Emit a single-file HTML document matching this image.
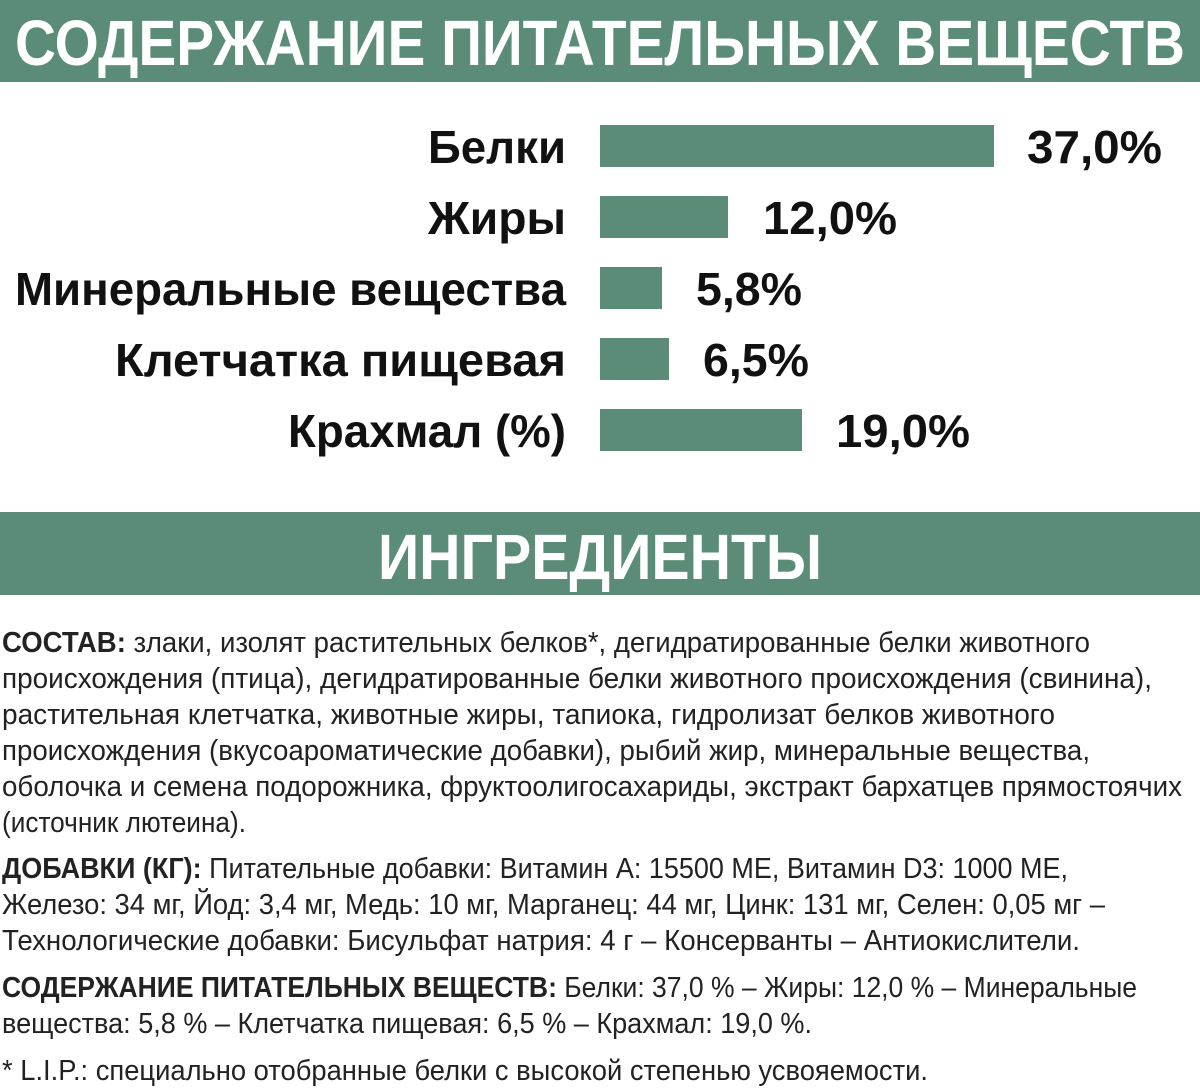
<!DOCTYPE html>
<html><head><meta charset="utf-8"><style>html,body{margin:0;padding:0;background:#fff}svg{display:block}</style></head>
<body>
<svg width="1200" height="1089" viewBox="0 0 1200 1089" xmlns="http://www.w3.org/2000/svg" font-family="'Liberation Sans', sans-serif">
<rect x="0" y="0" width="1200" height="82" fill="#5b8c78"/>
<text x="15" y="65" font-size="64" font-weight="bold" fill="#fff" textLength="1170" lengthAdjust="spacingAndGlyphs">СОДЕРЖАНИЕ ПИТАТЕЛЬНЫХ ВЕЩЕСТВ</text>
<g fill="#5b8c78">
<rect x="600" y="125" width="394" height="42"/>
<rect x="600" y="196" width="128" height="42"/>
<rect x="600" y="267" width="62" height="42"/>
<rect x="600" y="338" width="69" height="42"/>
<rect x="600" y="409" width="202" height="42"/>
</g>
<g font-size="46" font-weight="bold" fill="#111">
<text x="428" y="163" textLength="138" lengthAdjust="spacingAndGlyphs">Белки</text>
<text x="428" y="234" textLength="138" lengthAdjust="spacingAndGlyphs">Жиры</text>
<text x="15" y="305" textLength="551" lengthAdjust="spacingAndGlyphs">Минеральные вещества</text>
<text x="115" y="376" textLength="451" lengthAdjust="spacingAndGlyphs">Клетчатка пищевая</text>
<text x="288" y="447" textLength="278" lengthAdjust="spacingAndGlyphs">Крахмал (%)</text>
<text x="1027" y="163" textLength="135" lengthAdjust="spacingAndGlyphs">37,0%</text>
<text x="763" y="234" textLength="134" lengthAdjust="spacingAndGlyphs">12,0%</text>
<text x="696" y="305" textLength="106" lengthAdjust="spacingAndGlyphs">5,8%</text>
<text x="703" y="376" textLength="106" lengthAdjust="spacingAndGlyphs">6,5%</text>
<text x="836" y="447" textLength="134" lengthAdjust="spacingAndGlyphs">19,0%</text>
</g>
<rect x="0" y="512" width="1200" height="83" fill="#5b8c78"/>
<text x="378" y="579" font-size="64" font-weight="bold" fill="#fff" textLength="444" lengthAdjust="spacingAndGlyphs">ИНГРЕДИЕНТЫ</text>
<g font-size="29" fill="#222">
<text x="2" y="652" textLength="1088" lengthAdjust="spacingAndGlyphs"><tspan font-weight="bold">СОСТАВ:</tspan> злаки, изолят растительных белков*, дегидратированные белки животного</text>
<text x="2" y="688" textLength="1150" lengthAdjust="spacingAndGlyphs">происхождения (птица), дегидратированные белки животного происхождения (свинина),</text>
<text x="2" y="724" textLength="1053" lengthAdjust="spacingAndGlyphs">растительная клетчатка, животные жиры, тапиока, гидролизат белков животного</text>
<text x="2" y="760" textLength="1088" lengthAdjust="spacingAndGlyphs">происхождения (вкусоароматические добавки), рыбий жир, минеральные вещества,</text>
<text x="2" y="796" textLength="1180" lengthAdjust="spacingAndGlyphs">оболочка и семена подорожника, фруктоолигосахариды, экстракт бархатцев прямостоячих</text>
<text x="2" y="832" textLength="244" lengthAdjust="spacingAndGlyphs">(источник лютеина).</text>
<text x="2" y="878" textLength="1066" lengthAdjust="spacingAndGlyphs"><tspan font-weight="bold">ДОБАВКИ (КГ):</tspan> Питательные добавки: Витамин А: 15500 МЕ, Витамин D3: 1000 МЕ,</text>
<text x="2" y="914" textLength="1103" lengthAdjust="spacingAndGlyphs">Железо: 34 мг, Йод: 3,4 мг, Медь: 10 мг, Марганец: 44 мг, Цинк: 131 мг, Селен: 0,05 мг –</text>
<text x="2" y="950" textLength="1078" lengthAdjust="spacingAndGlyphs">Технологические добавки: Бисульфат натрия: 4 г – Консерванты – Антиокислители.</text>
<text x="2" y="997" textLength="1135" lengthAdjust="spacingAndGlyphs"><tspan font-weight="bold">СОДЕРЖАНИЕ ПИТАТЕЛЬНЫХ ВЕЩЕСТВ:</tspan> Белки: 37,0 % – Жиры: 12,0 % – Минеральные</text>
<text x="2" y="1033" textLength="810" lengthAdjust="spacingAndGlyphs">вещества: 5,8 % – Клетчатка пищевая: 6,5 % – Крахмал: 19,0 %.</text>
<text x="2" y="1080" textLength="926" lengthAdjust="spacingAndGlyphs">* L.I.P.: специально отобранные белки с высокой степенью усвояемости.</text>
</g>
</svg>
</body></html>
